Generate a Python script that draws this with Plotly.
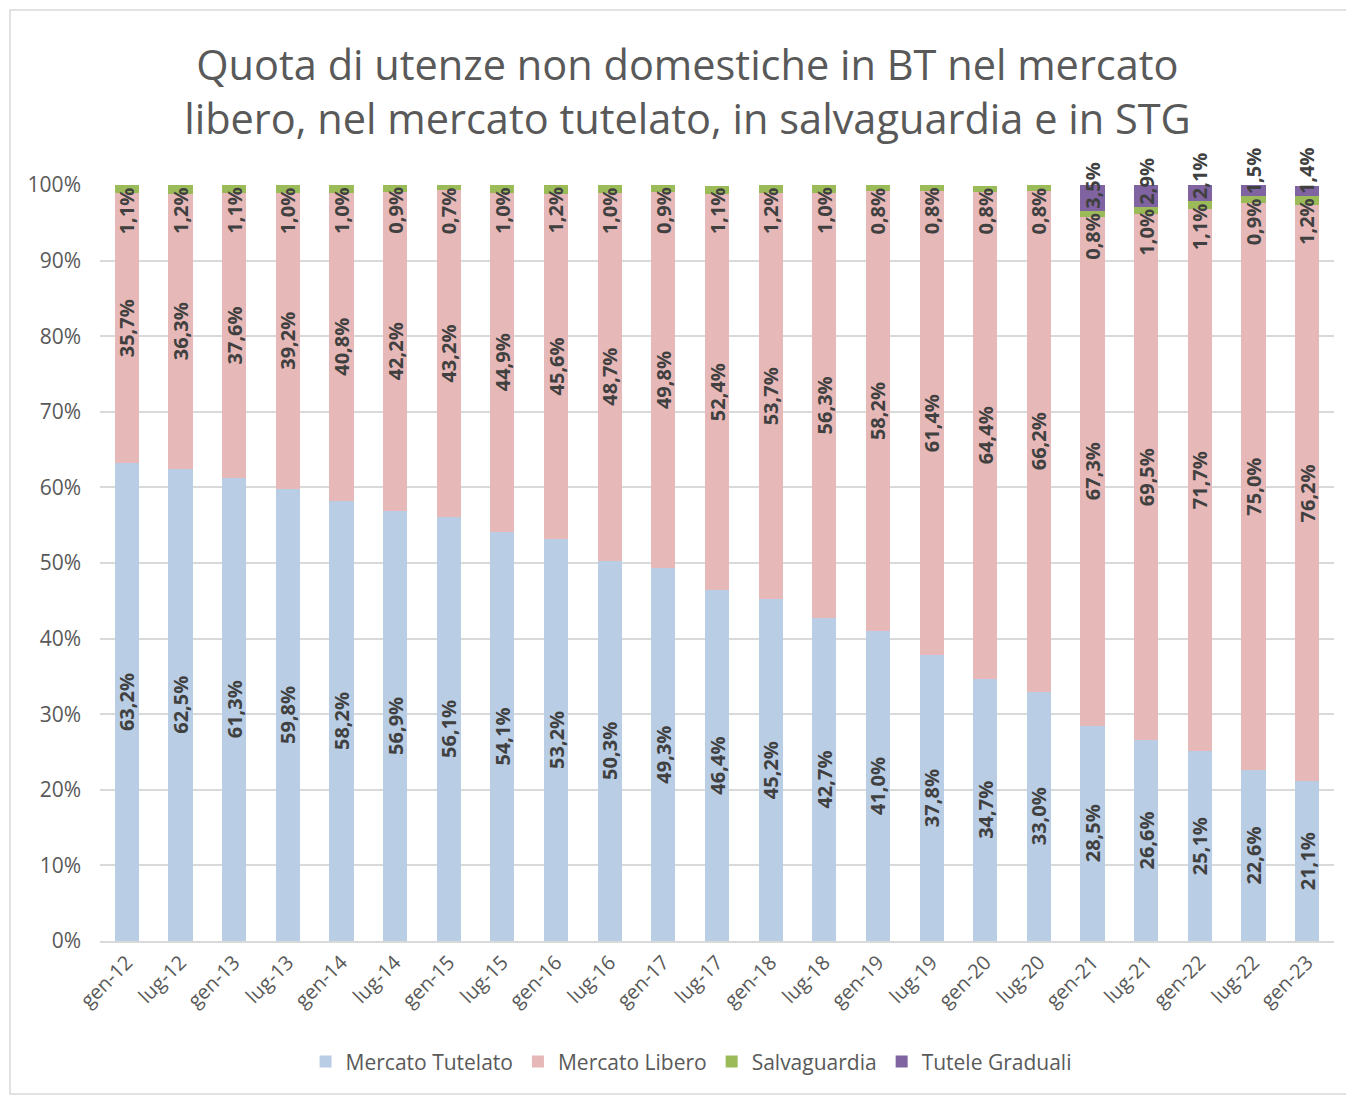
import plotly.graph_objects as go

categories = ["gen-12", "lug-12", "gen-13", "lug-13", "gen-14", "lug-14", "gen-15", "lug-15",
              "gen-16", "lug-16", "gen-17", "lug-17", "gen-18", "lug-18", "gen-19", "lug-19",
              "gen-20", "lug-20", "gen-21", "lug-21", "gen-22", "lug-22", "gen-23"]
tutelato = [63.2, 62.5, 61.3, 59.8, 58.2, 56.9, 56.1, 54.1, 53.2, 50.3, 49.3, 46.4,
            45.2, 42.7, 41.0, 37.8, 34.7, 33.0, 28.5, 26.6, 25.1, 22.6, 21.1]
libero = [35.7, 36.3, 37.6, 39.2, 40.8, 42.2, 43.2, 44.9, 45.6, 48.7, 49.8, 52.4,
          53.7, 56.3, 58.2, 61.4, 64.4, 66.2, 67.3, 69.5, 71.7, 75.0, 76.2]
salvaguardia = [1.1, 1.2, 1.1, 1.0, 1.0, 0.9, 0.7, 1.0, 1.2, 1.0, 0.9, 1.1,
                1.2, 1.0, 0.8, 0.8, 0.8, 0.8, 0.8, 1.0, 1.1, 0.9, 1.2]
tutele_graduali = [None] * 18 + [3.5, 2.9, 2.1, 1.5, 1.4]
y_ticks = list(range(0, 101, 10))

TXT = "#404040"
GREY = "#595959"
FONT = "Open Sans"
LBL = 20


def fmt(v):
    return f"{v:.1f}".replace(".", ",") + "%"


fig = go.Figure()
series = [
    ("Mercato Tutelato", tutelato, "#b9cde5", True),
    ("Mercato Libero", libero, "#e6b9b8", True),
    ("Salvaguardia", salvaguardia, "#9bbb59", False),
    ("Tutele Graduali", tutele_graduali, "#8064a2", False),
]
for name, vals, color, show_text in series:
    fig.add_trace(go.Bar(
        name=name, x=categories, y=vals, marker=dict(color=color, line=dict(width=0)),
        text=[fmt(v) if (show_text and v is not None) else "" for v in vals],
        textposition="inside", insidetextanchor="middle", textangle=-90,
        textfont=dict(family=FONT, size=LBL, color=TXT, weight="bold"),
    ))

annotations = []
for i, c in enumerate(categories):
    base = min(tutelato[i] + libero[i] + salvaguardia[i], 99.99)
    annotations.append(dict(x=c, y=base, xref="x", yref="y", text=fmt(salvaguardia[i]),
                            textangle=-90, yanchor="top", xanchor="center", showarrow=False,
                            font=dict(family=FONT, size=LBL, color=TXT, weight="bold")))
    if tutele_graduali[i] is not None:
        annotations.append(dict(x=c, y=base, xref="x", yref="y", text=fmt(tutele_graduali[i]),
                                textangle=-90, yanchor="bottom", xanchor="center", showarrow=False,
                                font=dict(family=FONT, size=LBL, color=TXT, weight="bold")))

fig.update_layout(
    width=1346, height=1087,
    barmode="stack", bargap=0.55,
    paper_bgcolor="white", plot_bgcolor="white",
    margin=dict(l=92, r=20, t=177, b=154),
    title=dict(text="Quota di utenze non domestiche in BT nel mercato<br>libero, nel mercato tutelato, in salvaguardia e in STG",
               x=0.5048, xanchor="center", xref="container", yref="container", y=0.934, yanchor="middle",
               font=dict(family=FONT, size=41.5, color=GREY)),
    xaxis=dict(tickangle=-45, tickfont=dict(family=FONT, size=20, color=GREY),
               showgrid=False, showline=True, linecolor="#d9d9d9", linewidth=1.5, ticks=""),
    yaxis=dict(range=[0, 100], tickvals=y_ticks, ticktext=[f"{t}%" for t in y_ticks],
               tickfont=dict(family=FONT, size=21, color=GREY),
               showgrid=True, gridcolor="#d9d9d9", gridwidth=1.5, zeroline=False, ticks="",
               ticklabelstandoff=18),
    legend=dict(orientation="h", x=0.479, xanchor="center", y=-0.160, yanchor="middle",
                font=dict(family=FONT, size=21, color=GREY), traceorder="normal"),
    annotations=annotations,
    shapes=[dict(type="rect", xref="paper", yref="paper", x0=-0.0729, x1=1.0154, y0=-0.2024, y1=1.2315,
                 line=dict(color="#d9d9d9", width=1.5), fillcolor="rgba(0,0,0,0)", layer="below")],
    uniformtext=dict(mode="show", minsize=LBL),
)

fig.write_html("out.html")
